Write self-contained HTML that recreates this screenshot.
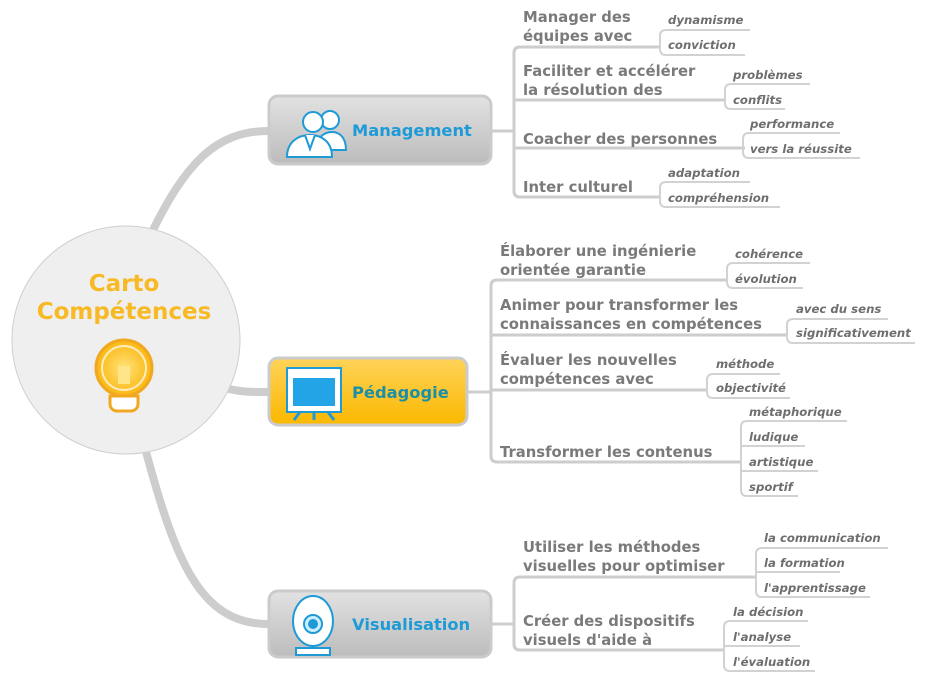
<!DOCTYPE html>
<html><head><meta charset="utf-8"><style>
body{margin:0;background:#fff;width:932px;height:681px;overflow:hidden}
svg text{font-family:"DejaVu Sans","Liberation Sans",sans-serif}
.t{font-size:14.8px;font-weight:bold;fill:#7a7a7a}
.l{font-size:11.7px;font-style:italic;font-weight:bold;fill:#6e6e6e}
.b{font-size:16.3px;font-weight:bold;fill:#1e9ad6}
</style></head><body>
<svg width="932" height="681" xmlns="http://www.w3.org/2000/svg">
<defs>
<linearGradient id="g" x1="0" y1="0" x2="0" y2="1"><stop offset="0" stop-color="#e2e2e2"/><stop offset="1" stop-color="#bcbcbc"/></linearGradient>
<linearGradient id="y" x1="0" y1="0" x2="0" y2="1"><stop offset="0" stop-color="#ffd35a"/><stop offset="1" stop-color="#fbb800"/></linearGradient>
<radialGradient id="bulb"><stop offset="0" stop-color="#ffe27a"/><stop offset="1" stop-color="#fbb710"/></radialGradient>
</defs>
<g fill="none" stroke="#cdcdcd" stroke-width="8" stroke-linecap="round">
<path d="M152,232 C185,165 215,131 268,131"/>
<path d="M225,388 C240,392 250,392 268,392"/>
<path d="M145,448 C175,560 200,624 268,624"/>
</g>
<circle cx="126" cy="340" r="114" fill="#efefef" stroke="#cfcfcf" stroke-width="1"/>
<text x="124" y="291" text-anchor="middle" style="font-size:23px;font-weight:bold;fill:#f7b924">Carto</text>
<text x="124" y="319" text-anchor="middle" style="font-size:23px;font-weight:bold;fill:#f7b924">Compétences</text>
<circle cx="124" cy="368" r="28" fill="url(#bulb)" stroke="#f0a820" stroke-width="3"/>
<circle cx="124" cy="368" r="22" fill="none" stroke="#fff" stroke-width="2" opacity=".7"/>
<rect x="118" y="366" width="12" height="18" fill="#ffe58a"/>
<path d="M110,396 h28 v8 a7,7 0 0 1 -7,7 h-14 a7,7 0 0 1 -7,-7z" fill="#fff" stroke="#f0a820" stroke-width="3"/>
<rect x="269" y="96" width="222" height="68" rx="9" fill="url(#g)" stroke="#cbcbcb" stroke-width="3"/>
<text x="352" y="136" class="b">Management</text>
<g fill="#fff" stroke="#1e9ad6" stroke-width="2">
<circle cx="330" cy="120" r="9"/><path d="M316,150 c0,-12 8,-18 16,-18 c8,0 14,6 14,18z"/>
<circle cx="313" cy="122" r="10"/><path d="M287,157 c0,-15 11,-22 23,-22 c12,0 22,7 22,22z"/><path d="M305,135 l5,14 5,-14"/>
</g>
<rect x="269" y="358" width="198" height="67" rx="9" fill="url(#y)" stroke="#cbcbcb" stroke-width="3"/>
<text x="352" y="398" class="b" style="fill:#1c8fa8">Pédagogie</text>
<rect x="287" y="368" width="54" height="44" fill="#fff" stroke="#1e9ad6" stroke-width="2"/>
<rect x="293" y="378" width="42" height="28" fill="#22a4e6"/>
<path d="M300,412 l-6,8 M314,412 v8 M328,412 l6,8" stroke="#1e9ad6" stroke-width="3"/>
<rect x="269" y="591" width="222" height="66" rx="9" fill="url(#g)" stroke="#cbcbcb" stroke-width="3"/>
<text x="352" y="630" class="b">Visualisation</text>
<ellipse cx="313" cy="621" rx="20" ry="25" fill="#fff" stroke="#1e9ad6" stroke-width="2"/>
<circle cx="313" cy="624" r="9" fill="#cdeffc" stroke="#1e9ad6" stroke-width="2"/><circle cx="313" cy="624" r="5" fill="#1e9ad6"/>
<path d="M296,648 h34 v7 h-34z" fill="#fff" stroke="#1e9ad6" stroke-width="2"/>
<g fill="none" stroke="#cdcdcd" stroke-width="3">
<path d="M491,131 H514"/><path d="M660,47 H520 q-6,0 -6,6 V191 q0,6 6,6 H660"/><path d="M514,100 H725"/><path d="M514,148 H745"/>
<path d="M467,392 H491"/><path d="M727,280 H497 q-6,0 -6,6 V456 q0,6 6,6 H740"/><path d="M491,335 H787"/><path d="M491,390 H707"/>
<path d="M491,624 H514"/><path d="M756,577 H520 q-6,0 -6,6 V644 q0,6 6,6 H724"/>
</g>
<g fill="none" stroke="#d2d2d2" stroke-width="2">
<path d="M750,30 H666 q-6,0 -6,6 V49 q0,6 6,6 H745"/>
<path d="M810,84 H731 q-6,0 -6,6 V103 q0,6 6,6 H785"/>
<path d="M840,133 H749 q-6,0 -6,6 V152 q0,6 6,6 H860"/>
<path d="M750,182 H666 q-6,0 -6,6 V201 q0,6 6,6 H780"/>
<path d="M810,263 H733 q-6,0 -6,6 V282 q0,6 6,6 H803"/>
<path d="M888,319 H793 q-6,0 -6,6 V337 q0,6 6,6 H915"/>
<path d="M780,374 H713 q-6,0 -6,6 V392 q0,6 6,6 H790"/>
<path d="M847,421 H747 q-6,0 -6,6 V490 q0,6 6,6 H798 M741,446 H805 M741,471 H818"/>
<path d="M888,548 H762 q-6,0 -6,6 V591 q0,6 6,6 H870 M756,572 H840"/>
<path d="M808,621 H730 q-6,0 -6,6 V665 q0,6 6,6 H815 M724,646 H800"/>
</g>
<text class="t" x="523" y="22">Manager des</text><text class="t" x="523" y="41">équipes avec</text>
<text class="t" x="523" y="76">Faciliter et accélérer</text><text class="t" x="523" y="95">la résolution des</text>
<text class="t" x="523" y="144">Coacher des personnes</text>
<text class="t" x="523" y="192">Inter culturel</text>
<text class="t" x="500" y="256">Élaborer une ingénierie</text><text class="t" x="500" y="275">orientée garantie</text>
<text class="t" x="500" y="310">Animer pour transformer les</text><text class="t" x="500" y="329">connaissances en compétences</text>
<text class="t" x="500" y="365">Évaluer les nouvelles</text><text class="t" x="500" y="384">compétences avec</text>
<text class="t" x="500" y="457">Transformer les contenus</text>
<text class="t" x="523" y="552">Utiliser les méthodes</text><text class="t" x="523" y="571">visuelles pour optimiser</text>
<text class="t" x="523" y="626">Créer des dispositifs</text><text class="t" x="523" y="645">visuels d'aide à</text>
<text class="l" x="668" y="24">dynamisme</text><text class="l" x="668" y="49">conviction</text>
<text class="l" x="733" y="79">problèmes</text><text class="l" x="733" y="104">conflits</text>
<text class="l" x="750" y="128">performance</text><text class="l" x="750" y="153">vers la réussite</text>
<text class="l" x="668" y="177">adaptation</text><text class="l" x="668" y="202">compréhension</text>
<text class="l" x="735" y="258">cohérence</text><text class="l" x="735" y="283">évolution</text>
<text class="l" x="796" y="313">avec du sens</text><text class="l" x="796" y="337">significativement</text>
<text class="l" x="716" y="368">méthode</text><text class="l" x="716" y="392">objectivité</text>
<text class="l" x="749" y="416">métaphorique</text><text class="l" x="749" y="441">ludique</text><text class="l" x="749" y="466">artistique</text><text class="l" x="749" y="491">sportif</text>
<text class="l" x="764" y="542">la communication</text><text class="l" x="764" y="567">la formation</text><text class="l" x="764" y="592">l'apprentissage</text>
<text class="l" x="733" y="616">la décision</text><text class="l" x="733" y="641">l'analyse</text><text class="l" x="733" y="666">l'évaluation</text>
</svg>
</body></html>
